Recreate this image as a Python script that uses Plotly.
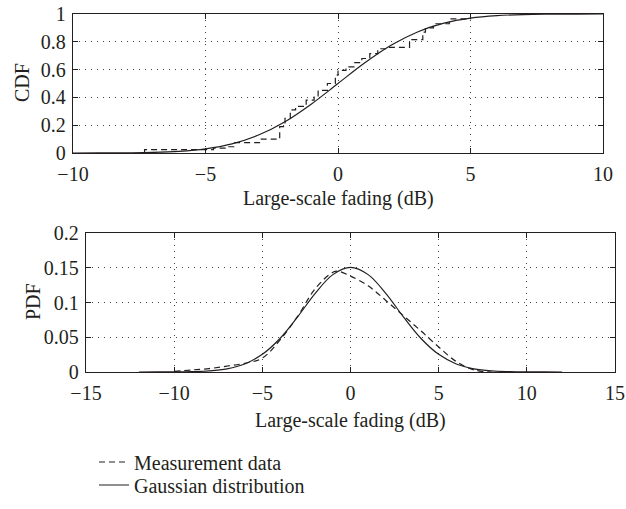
import plotly.graph_objects as go

# ---- CDF panel data ----
cdf_x = [-10, -9, -8, -7, -6, -5, -4, -3, -2, -1, 0, 1, 2, 3, 4, 5, 6, 7, 8, 9, 10]
cdf_gauss = [0.0001, 0.0003, 0.0013, 0.004, 0.012, 0.030, 0.066, 0.129, 0.225, 0.353,
             0.5, 0.647, 0.775, 0.871, 0.934, 0.970, 0.988, 0.996, 0.9987, 0.9997, 1.0]
meas_cdf_x = [-7.3, -7.3, -4.7, -4.2, -3.9, -2.9, -2.2, -2.0, -1.8, -1.6, -1.2, -0.9, -0.75,
              -0.4, -0.1, 0.0, 0.3, 0.6, 0.9, 1.2, 1.5, 1.85, 2.7, 3.2, 3.3, 3.6, 4.2, 5.0]
meas_cdf_y = [0.0, 0.025, 0.035, 0.045, 0.075, 0.1, 0.19, 0.25, 0.31, 0.335, 0.38, 0.41, 0.45,
              0.5, 0.56, 0.595, 0.62, 0.65, 0.68, 0.715, 0.75, 0.76, 0.815, 0.87, 0.9, 0.93, 0.965, 0.975]

# ---- PDF panel data ----
pdf_x = [-12, -11, -10, -9, -8, -7, -6, -5, -4, -3, -2, -1, 0,
         1, 2, 3, 4, 5, 6, 7, 8, 9, 10, 11, 12]
pdf_gauss = [0.0, 0.00005, 0.0001, 0.0005, 0.0016, 0.0046, 0.0116, 0.0254, 0.0482, 0.0793, 0.1132, 0.1401, 0.1505,
             0.1401, 0.1132, 0.0793, 0.0482, 0.0254, 0.0116, 0.0046, 0.0016, 0.0005, 0.0001, 0.00005, 0.0]
meas_pdf_x = [-10, -9, -8, -7, -6, -5, -4, -3, -2, -1, -0.7, 0, 1, 2, 3, 4, 5, 6, 7, 8]
meas_pdf_y = [0.001, 0.003, 0.005, 0.0085, 0.0125, 0.02, 0.046, 0.08, 0.12, 0.1435, 0.145, 0.138,
              0.124, 0.103, 0.081, 0.059, 0.036, 0.015, 0.003, 0.0]

# tick values
cdf_xticks = [-10, -5, 0, 5, 10]
cdf_yticks = [0, 0.2, 0.4, 0.6, 0.8, 1]
pdf_xticks = [-15, -10, -5, 0, 5, 10, 15]
pdf_yticks = [0, 0.05, 0.1, 0.15, 0.2]

FONT = "Liberation Serif"
TXT = "#231f20"
LINE = "#231f20"
FS = 20

fig = go.Figure()

fig.add_trace(go.Scatter(x=meas_cdf_x, y=meas_cdf_y, mode="lines", line_shape="hv",
                         line=dict(color=LINE, width=1.2, dash="6px,4px"),
                         name="Measurement data", xaxis="x", yaxis="y",
                         showlegend=True, legend="legend"))
fig.add_trace(go.Scatter(x=cdf_x, y=cdf_gauss, mode="lines", line_shape="spline",
                         line=dict(color=LINE, width=1.2),
                         name="Gaussian distribution", xaxis="x", yaxis="y",
                         showlegend=True, legend="legend2"))
fig.add_trace(go.Scatter(x=meas_pdf_x, y=meas_pdf_y, mode="lines", line_shape="spline",
                         line=dict(color=LINE, width=1.2, dash="6px,4px"),
                         name="Measurement data", xaxis="x2", yaxis="y2", showlegend=False))
fig.add_trace(go.Scatter(x=pdf_x, y=pdf_gauss, mode="lines", line_shape="spline",
                         line=dict(color=LINE, width=1.2),
                         name="Gaussian distribution", xaxis="x2", yaxis="y2", showlegend=False))

W, H = 626, 509

def ax_common():
    return dict(showline=True, linecolor=LINE, linewidth=1.3, mirror="ticks",
                ticks="inside", ticklen=5, tickcolor=LINE, tickwidth=1,
                showgrid=True, gridcolor="#444", gridwidth=1, griddash="1px,5px",
                zeroline=False, automargin=False,
                tickfont=dict(family=FONT, size=FS, color=TXT))

leg_common = dict(xanchor="left", yanchor="middle", bgcolor="rgba(0,0,0,0)",
                  borderwidth=0, font=dict(family=FONT, size=FS, color=TXT), itemwidth=30)

fig.update_layout(
    width=W, height=H,
    margin=dict(l=0, r=0, t=0, b=0, autoexpand=False),
    paper_bgcolor="white", plot_bgcolor="white",
    font=dict(family=FONT, size=FS, color=TXT),
    xaxis=dict(domain=[73 / W, 603 / W], range=[-10, 10], tickvals=cdf_xticks,
               anchor="y", ticklabelstandoff=3, **ax_common()),
    yaxis=dict(domain=[1 - 153 / H, 1 - 14 / H], range=[0, 1], tickvals=cdf_yticks,
               anchor="x", ticklabelstandoff=2, **ax_common()),
    xaxis2=dict(domain=[86 / W, 615 / W], range=[-15, 15], tickvals=pdf_xticks,
                anchor="y2", ticklabelstandoff=3, **ax_common()),
    yaxis2=dict(domain=[1 - 372 / H, 1 - 233 / H], range=[0, 0.2], tickvals=pdf_yticks,
                anchor="x2", ticklabelstandoff=2, **ax_common()),
    showlegend=True,
    legend=dict(x=94 / W, y=1 - 462 / H, **leg_common),
    legend2=dict(x=94 / W, y=1 - 485 / H, **leg_common),
)

annots = [
    dict(text="CDF", x=22 / W, y=1 - 83 / H, textangle=-90),
    dict(text="PDF", x=33 / W, y=1 - 302 / H, textangle=-90),
    dict(text="Large-scale fading (dB)", x=338 / W, y=1 - 198 / H, textangle=0),
    dict(text="Large-scale fading (dB)", x=350 / W, y=1 - 420 / H, textangle=0),
]
for a in annots:
    fig.add_annotation(xref="paper", yref="paper", showarrow=False,
                       xanchor="center", yanchor="middle",
                       font=dict(family=FONT, size=FS, color=TXT), **a)

fig.write_html("out.html", config={"displayModeBar": False},
               post_script="document.body.style.margin='0px';document.body.style.overflow='hidden';")
